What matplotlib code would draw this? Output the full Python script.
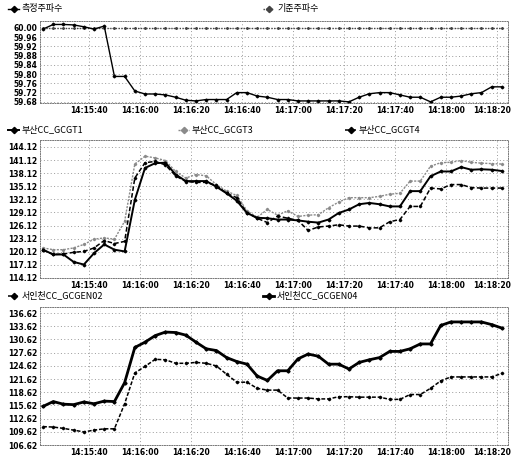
import numpy as np
import pandas as pd
import matplotlib
matplotlib.use("Agg")
import matplotlib.pyplot as plt
import matplotlib.dates as mdates
import matplotlib.transforms as mtransforms
from matplotlib.lines import Line2D

plt.rcParams["font.family"] = ["Noto Sans CJK KR", "DejaVu Sans"]

W, H = 514, 459

# sampling every 4 s from 14:15:22
times = pd.date_range("2000-01-01 14:15:22", periods=46, freq="4s")

freq_meas = [59.995, 60.015, 60.015, 60.013, 60.005, 59.995, 60.008, 59.79, 59.79, 59.727,
             59.714, 59.714, 59.71, 59.70, 59.687, 59.684, 59.69, 59.69, 59.69, 59.72,
             59.72, 59.705, 59.70, 59.69, 59.69, 59.684, 59.684, 59.684, 59.684, 59.684,
             59.68, 59.70, 59.715, 59.72, 59.72, 59.71, 59.70, 59.70, 59.68, 59.70,
             59.70, 59.705, 59.715, 59.72, 59.745, 59.745]
freq_ref = [60.00] * 46

gt1 = [120.6, 119.5, 119.5, 117.8, 117.2, 119.8, 121.8, 120.6, 120.2, 132.0,
       139.3, 140.4, 140.5, 137.8, 136.3, 136.3, 136.3, 135.0, 133.5, 131.8,
       129.0, 127.9, 127.8, 127.5, 127.5, 127.3, 127.0, 126.8, 127.5, 129.0,
       129.8, 131.0, 131.3, 131.0, 130.5, 130.5, 134.0, 134.0, 137.4, 138.5,
       138.5, 139.5, 138.9, 139.0, 138.9, 138.6]
gt3 = [121.0, 120.6, 120.6, 121.0, 121.8, 123.0, 123.3, 123.0, 127.1, 140.2,
       142.0, 141.6, 141.0, 138.5, 137.0, 137.8, 137.5, 135.5, 134.0, 133.0,
       129.5, 128.0, 129.8, 128.5, 129.5, 128.2, 128.5, 128.6, 130.2, 131.5,
       132.5, 132.5, 132.5, 132.8, 133.3, 133.5, 136.3, 136.3, 139.7, 140.5,
       140.6, 141.0, 140.6, 140.4, 140.3, 140.2]
gt4 = [120.5, 119.5, 119.6, 120.0, 120.2, 121.0, 122.7, 122.0, 122.5, 137.0,
       140.5, 140.8, 140.0, 137.5, 136.2, 136.0, 136.0, 135.3, 133.5, 132.5,
       129.0, 127.8, 126.8, 128.3, 127.8, 127.3, 125.0, 125.8, 126.0, 126.3,
       126.0, 126.0, 125.6, 125.6, 127.0, 127.5, 130.5, 130.5, 134.7, 134.5,
       135.5, 135.5, 134.8, 134.7, 134.7, 134.7]

gen02 = [110.8, 110.7, 110.4, 110.0, 109.6, 110.0, 110.3, 110.3, 116.0, 123.0,
         124.5, 126.1, 126.0, 125.2, 125.2, 125.4, 125.2, 124.6, 122.7, 120.9,
         120.9, 119.5, 119.1, 119.1, 117.3, 117.3, 117.3, 117.1, 117.1, 117.6,
         117.6, 117.5, 117.5, 117.5, 117.0, 117.0, 118.1, 118.1, 119.5, 121.2,
         122.1, 122.1, 122.1, 122.1, 122.1, 122.9]
gen04 = [115.4, 116.5, 115.9, 115.8, 116.4, 116.0, 116.6, 116.5, 120.8, 128.8,
         130.0, 131.5, 132.3, 132.2, 131.6, 130.0, 128.5, 128.1, 126.5, 125.6,
         125.0, 122.3, 121.3, 123.5, 123.5, 126.2, 127.3, 126.8, 125.0, 125.0,
         123.9, 125.4, 126.0, 126.5, 127.9, 127.9, 128.5, 129.6, 129.6, 133.8,
         134.6, 134.6, 134.6, 134.6, 134.0, 133.2]

yticks_freq = [59.68, 59.72, 59.76, 59.80, 59.84, 59.88, 59.92, 59.96, 60.00]
yticks_busan = [114.12, 117.12, 120.12, 123.12, 126.12, 129.12, 132.12, 135.12, 138.12, 141.12, 144.12]
yticks_seoin = [106.62, 109.62, 112.62, 115.62, 118.62, 121.62, 124.62, 127.62, 130.62, 133.62, 136.62]

st_meas = dict(color="black", lw=1.0, ls="-", marker="D", ms=1.4)
st_ref = dict(color="#444444", lw=1.0, ls=(0, (1, 1)), marker="D", ms=1.0)
st_gt1 = dict(color="black", lw=1.4, ls="-", marker="D", ms=1.4)
st_gt3 = dict(color="#8a8a8a", lw=1.0, ls=(0, (1.5, 1)), marker="D", ms=1.2)
st_gt4 = dict(color="black", lw=1.1, ls=(0, (3, 1.5)), marker="D", ms=1.3)
st_g02 = dict(color="black", lw=1.1, ls=(0, (2.5, 1.2)), marker="D", ms=1.3)
st_g04 = dict(color="black", lw=2.0, ls="-", marker="D", ms=1.6)

fig = plt.figure(figsize=(W / 100, H / 100), dpi=100)


def px_rect(left, top, right, bottom):
    return [left / W, 1 - bottom / H, (right - left) / W, (bottom - top) / H]


def style_axis(ax, ylim, yticks):
    ax.set_ylim(*ylim)
    ax.set_yticks(yticks)
    ax.set_yticklabels([f"{v:.2f}" for v in yticks], fontsize=5.5,
                       fontweight="bold", family="DejaVu Sans")
    ax.set_xlim(times[0] - pd.Timedelta(seconds=1.2), times[-1] + pd.Timedelta(seconds=2.4))
    ax.xaxis.set_major_locator(mdates.SecondLocator(bysecond=[0, 20, 40]))
    ax.xaxis.set_major_formatter(mdates.DateFormatter("%H:%M:%S"))
    ax.tick_params(length=0, pad=2)
    fig.canvas.draw()
    labs = ax.get_xticklabels()
    for lab in labs:
        lab.set_fontsize(5.5)
        lab.set_fontweight("bold")
        lab.set_family("DejaVu Sans")
    # nudge the last label left so it stays inside the figure
    shift = mtransforms.ScaledTranslation(-5 / 100, 0, fig.dpi_scale_trans)
    labs[-1].set_transform(labs[-1].get_transform() + shift)
    ax.grid(True, color="#9a9a9a", ls=(0, (1, 2.5)), lw=0.7)
    for sp in ax.spines.values():
        sp.set_linestyle((0, (1, 1.5)))
        sp.set_color("#777777")
        sp.set_linewidth(0.7)
    ax.set_axisbelow(True)


def legend_entry(x, y, label, style):
    fy = 1 - y / H
    st = dict(style)
    st["ms"] = 3.2
    fig.add_artist(Line2D([x / W, (x + 5.5) / W, (x + 11) / W], [fy, fy, fy],
                          transform=fig.transFigure, markevery=[1], **st))
    fig.text((x + 14) / W, fy, label, fontsize=6.5, va="center", ha="left")


# top: frequency
ax1 = fig.add_axes(px_rect(40, 21, 508, 103))
ax1.plot(times, freq_ref, **st_ref)
ax1.plot(times, freq_meas, **st_meas)
style_axis(ax1, (59.675, 60.03), yticks_freq)
legend_entry(8, 9, "측정주파수", st_meas)
legend_entry(263, 9, "기준주파수", st_ref)

# middle: Busan CC
ax2 = fig.add_axes(px_rect(40, 140, 508, 278))
ax2.plot(times, gt3, **st_gt3)
ax2.plot(times, gt4, **st_gt4)
ax2.plot(times, gt1, **st_gt1)
style_axis(ax2, (114.12, 145.7), yticks_busan)
legend_entry(8, 130, "부산CC_GCGT1", st_gt1)
legend_entry(178, 130, "부산CC_GCGT3", st_gt3)
legend_entry(345, 130, "부산CC_GCGT4", st_gt4)

# bottom: Seoincheon CC
ax3 = fig.add_axes(px_rect(40, 307, 508, 445))
ax3.plot(times, gen02, **st_g02)
ax3.plot(times, gen04, **st_g04)
style_axis(ax3, (106.62, 138.0), yticks_seoin)
legend_entry(8, 296, "서인천CC_GCGEN02", st_g02)
legend_entry(263, 296, "서인천CC_GCGEN04", st_g04)

fig.savefig("out.png", dpi=100)
